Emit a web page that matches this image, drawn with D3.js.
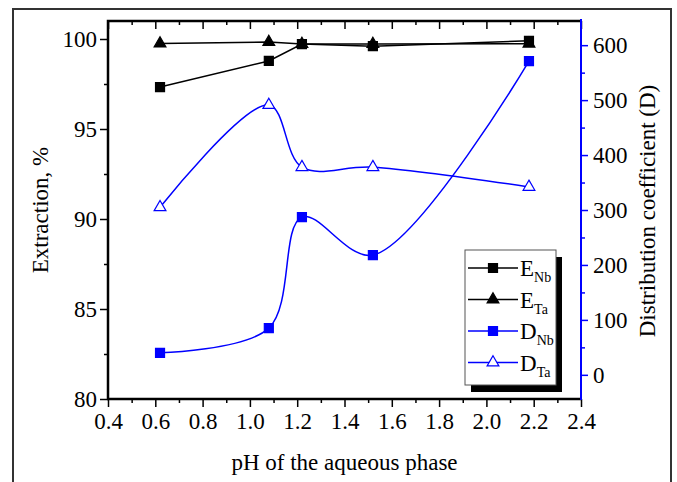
<!DOCTYPE html>
<html>
<head>
<meta charset="utf-8">
<script src="https://cdn.jsdelivr.net/npm/d3@7"></script>
<style>
  body { margin: 0; background: #fff; }
  svg { display: block; font-family: "Liberation Serif", "Times New Roman", serif; }
</style>
</head>
<body>
<svg id="chart" width="677" height="482"></svg>
<script>
// data
const pH = [0.62, 1.08, 1.22, 1.52, 2.18]
const eNb = [97.33, 98.78, 99.72, 99.6, 99.9]
const eTa = [99.75, 99.83, 99.72, 99.72, 99.74]
const dNb = [40, 85, 287, 218, 571]
const dTa = [305, 491, 378, 378, 342]

const xTicks = [0.4, 0.6, 0.8, 1.0, 1.2, 1.4, 1.6, 1.8, 2.0, 2.2, 2.4]
const xMinor = [0.5, 0.7, 0.9, 1.1, 1.3, 1.5, 1.7, 1.9, 2.1, 2.3]
const yTicks = [80, 85, 90, 95, 100]
const yMinor = [82.5, 87.5, 92.5, 97.5]
const dTicks = [0, 100, 200, 300, 400, 500, 600]
const dMinor = [50, 150, 250, 350, 450, 550]

const legendItems = [
  {main: 'E', sub: 'Nb', color: '#000', shape: 'square', fill: '#000'},
  {main: 'E', sub: 'Ta', color: '#000', shape: 'triangle', fill: '#000'},
  {main: 'D', sub: 'Nb', color: '#0000ff', shape: 'square', fill: '#0000ff'},
  {main: 'D', sub: 'Ta', color: '#0000ff', shape: 'triangle', fill: '#fff'}
]

const pLeft = 108, pRight = 581, pTop = 21, pBottom = 399
const svg = d3.select('#chart')

// outer frame
svg.append('path')
  .attr('d', 'M13,482V9H671V482')
  .attr('fill', 'none')
  .attr('stroke', '#333')
  .attr('stroke-width', 2)

const x = d3.scaleLinear().domain([0.4, 2.4]).range([pLeft, pRight])
const y = d3.scaleLinear().domain([80, 101]).range([pBottom, pTop])
const yD = d3.scaleLinear().domain([-44, 644]).range([pBottom, pTop])

function styleAxis(g, color) {
  g.select('.domain').remove()
  g.selectAll('line').attr('stroke', color).attr('stroke-width', 1.5)
  g.selectAll('text').attr('fill', '#000')
    .attr('font-family', '"Liberation Serif", serif').attr('font-size', 23)
}

// bottom
svg.append('g').attr('transform', `translate(0,${pBottom})`)
  .call(d3.axisBottom(x).tickValues(xTicks).tickFormat(d3.format('.1f')).tickSize(8).tickPadding(6))
  .call(g => styleAxis(g, '#000'))
svg.append('g').attr('transform', `translate(0,${pBottom})`)
  .call(d3.axisBottom(x).tickValues(xMinor).tickFormat('').tickSize(4))
  .call(g => styleAxis(g, '#000'))
// top (inward)
svg.append('g').attr('transform', `translate(0,${pTop})`)
  .call(d3.axisTop(x).tickValues(xTicks).tickFormat('').tickSize(-8))
  .call(g => styleAxis(g, '#000'))
svg.append('g').attr('transform', `translate(0,${pTop})`)
  .call(d3.axisTop(x).tickValues(xMinor).tickFormat('').tickSize(-4))
  .call(g => styleAxis(g, '#000'))
// left
svg.append('g').attr('transform', `translate(${pLeft},0)`)
  .call(d3.axisLeft(y).tickValues(yTicks).tickSize(8).tickPadding(3))
  .call(g => styleAxis(g, '#000'))
svg.append('g').attr('transform', `translate(${pLeft},0)`)
  .call(d3.axisLeft(y).tickValues(yMinor).tickFormat('').tickSize(4))
  .call(g => styleAxis(g, '#000'))
// right
svg.append('g').attr('transform', `translate(${pRight},0)`)
  .call(d3.axisRight(yD).tickValues(dTicks).tickSize(7).tickPadding(5))
  .call(g => styleAxis(g, '#0000ff'))
svg.append('g').attr('transform', `translate(${pRight},0)`)
  .call(d3.axisRight(yD).tickValues(dMinor).tickFormat('').tickSize(4))
  .call(g => styleAxis(g, '#0000ff'))

// axis lines
svg.append('path').attr('d', `M${pLeft},${pBottom}V${pTop}H${pRight}`)
  .attr('fill', 'none').attr('stroke', '#000').attr('stroke-width', 2.5)
svg.append('path').attr('d', `M${pLeft - 1},${pBottom}H${pRight}`)
  .attr('fill', 'none').attr('stroke', '#000').attr('stroke-width', 2.5)
svg.append('path').attr('d', `M${pRight},${pTop - 2}V${pBottom + 1}`)
  .attr('fill', 'none').attr('stroke', '#0000ff').attr('stroke-width', 2)

// titles
svg.append('text').attr('transform', 'translate(48,210) rotate(-90)')
  .attr('text-anchor', 'middle').attr('font-size', 23).text('Extraction, %')
svg.append('text').attr('transform', 'translate(655,211) rotate(-90)')
  .attr('text-anchor', 'middle').attr('font-size', 23).text('Distribution coefficient (D)')
svg.append('text').attr('x', (pLeft + pRight) / 2).attr('y', 470)
  .attr('text-anchor', 'middle').attr('font-size', 23).text('pH of the aqueous phase')

// series
const sq = d3.symbol().type(d3.symbolSquare).size(81)
const tri = d3.symbol().type(d3.symbolTriangle).size(60)

function drawSeries(vals, scale, color, curve, shape, fill) {
  const pts = pH.map((p, i) => [x(p), scale(vals[i])])
  svg.append('path')
    .attr('d', d3.line().curve(curve)(pts))
    .attr('fill', 'none').attr('stroke', color).attr('stroke-width', 1.5)
  svg.append('g').selectAll('path').data(pts).join('path')
    .attr('transform', d => `translate(${d[0]},${d[1]})`)
    .attr('d', shape === 'square' ? sq() : tri())
    .attr('fill', fill).attr('stroke', color).attr('stroke-width', 1.2)
}

drawSeries(dTa, yD, '#0000ff', d3.curveCatmullRom.alpha(0.5), 'triangle', '#fff')
drawSeries(dNb, yD, '#0000ff', d3.curveCatmullRom.alpha(0.5), 'square', '#0000ff')
drawSeries(eTa, y, '#000', d3.curveLinear, 'triangle', '#000')
drawSeries(eNb, y, '#000', d3.curveLinear, 'square', '#000')

// legend
const lg = svg.append('g')
lg.append('rect').attr('x', 471).attr('y', 257).attr('width', 91).attr('height', 135).attr('fill', '#000')
lg.append('rect').attr('x', 465).attr('y', 250).attr('width', 91).attr('height', 135)
  .attr('fill', '#fff').attr('stroke', '#555').attr('stroke-width', 1)

legendItems.forEach((d, i) => {
  const ly = 268 + i * 31.5
  lg.append('line').attr('x1', 468).attr('x2', 518).attr('y1', ly).attr('y2', ly)
    .attr('stroke', d.color).attr('stroke-width', 1.5)
  lg.append('path').attr('transform', `translate(493,${ly})`)
    .attr('d', d.shape === 'square' ? sq() : tri())
    .attr('fill', d.fill).attr('stroke', d.color).attr('stroke-width', 1.2)
  const t = lg.append('text').attr('x', 520).attr('y', ly + 8).attr('font-size', 23)
  t.append('tspan').text(d.main)
  t.append('tspan').attr('font-size', 14).attr('dy', 6).text(d.sub)
})
</script>
</body>
</html>
